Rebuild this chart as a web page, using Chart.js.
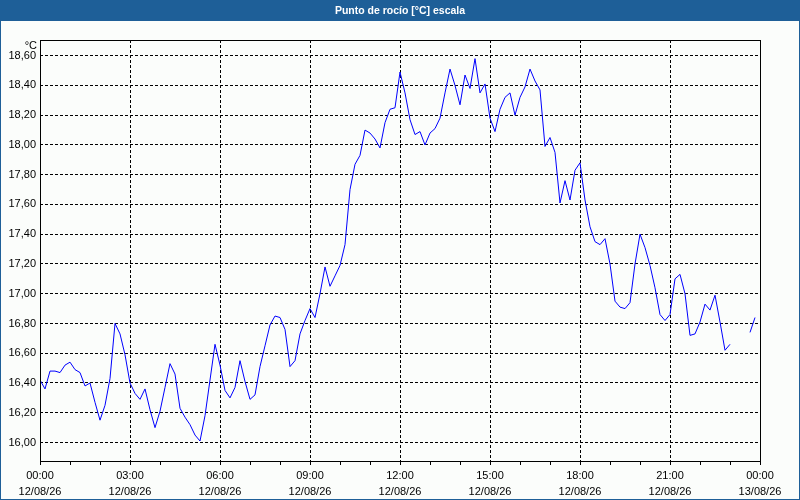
<!DOCTYPE html>
<html>
<head>
<meta charset="utf-8">
<script src="https://cdn.jsdelivr.net/npm/chart.js@4.4.1/dist/chart.umd.min.js"></script>
<style>
  html, body { margin: 0; padding: 0; background: #fbfdfb; }
  #wrap { width: 800px; height: 500px; position: relative; }
</style>
</head>
<body>
<div id="wrap"><canvas id="dew"></canvas></div>
<script>
// Dew point readings, one every 10 minutes starting 12/08/26 00:00 (null = no reading)
const stepMinutes = 10;
const dewPoint = [
  16.42, 16.36, 16.48, 16.48, 16.47, 16.52, 16.54, 16.49, 16.47, 16.38, 16.40, 16.27,
  16.15, 16.25, 16.43, 16.80, 16.73, 16.59, 16.40, 16.33, 16.29, 16.36, 16.22, 16.10,
  16.21, 16.37, 16.53, 16.46, 16.23, 16.17, 16.12, 16.05, 16.01, 16.18, 16.42, 16.66,
  16.52, 16.35, 16.30, 16.37, 16.55, 16.41, 16.29, 16.32, 16.51, 16.65, 16.79, 16.85,
  16.84, 16.76, 16.51, 16.55, 16.73, 16.82, 16.90, 16.84, 17.00, 17.18, 17.05, 17.12,
  17.19, 17.33, 17.70, 17.87, 17.93, 18.10, 18.08, 18.04, 17.98, 18.15, 18.24, 18.25,
  18.49, 18.35, 18.17, 18.07, 18.09, 18.00, 18.08, 18.11, 18.18, 18.35, 18.51, 18.40,
  18.27, 18.47, 18.38, 18.58, 18.35, 18.41, 18.18, 18.09, 18.24, 18.32, 18.35, 18.20,
  18.32, 18.39, 18.51, 18.43, 18.37, 17.99, 18.05, 17.95, 17.61, 17.76, 17.63, 17.83,
  17.88, 17.63, 17.45, 17.35, 17.33, 17.37, 17.20, 16.95, 16.91, 16.90, 16.94, 17.20,
  17.40, 17.31, 17.19, 17.04, 16.86, 16.82, 16.86, 17.10, 17.13, 17.00, 16.72, 16.73,
  16.81, 16.93, 16.89, 16.99, 16.81, 16.62, 16.66, null, null, null, 16.74, 16.84
];

// x axis ticks (minutes from start) and their two-line labels
const xTickMinutes = [0, 180, 360, 540, 720, 900, 1080, 1260, 1440];
const xTickTimes = ['00:00', '03:00', '06:00', '09:00', '12:00', '15:00', '18:00', '21:00', '00:00'];
const xTickDates = ['12/08/26', '12/08/26', '12/08/26', '12/08/26', '12/08/26', '12/08/26', '12/08/26', '12/08/26', '13/08/26'];
const xMinorMinutes = [60, 120, 240, 300, 420, 480, 600, 660, 780, 840, 960, 1020, 1140, 1200, 1320, 1380];

// y axis ticks
const yTicks = [16.0, 16.2, 16.4, 16.6, 16.8, 17.0, 17.2, 17.4, 17.6, 17.8, 18.0, 18.2, 18.4, 18.6];

const titleText = 'Punto de rocío [°C] escala';
const unitText = '°C';

const FONT = '"Liberation Sans", Arial, sans-serif';
const BLUE = '#1e5f98';

const points = dewPoint.map((v, i) => ({ x: i * stepMinutes, y: v }));

const framePlugin = {
  id: 'frame',
  beforeDraw(chart) {
    const ctx = chart.ctx;
    ctx.save();
    ctx.fillStyle = '#fbfdfb';
    ctx.fillRect(0, 0, chart.width, chart.height);
    ctx.restore();
  },
  afterDraw(chart) {
    const ctx = chart.ctx;
    const a = chart.chartArea;
    const xs = chart.scales.x;
    ctx.save();
    // title bar + window border
    ctx.fillStyle = BLUE;
    ctx.fillRect(0, 0, chart.width, 21);
    ctx.strokeStyle = BLUE;
    ctx.lineWidth = 1;
    ctx.strokeRect(0.5, 0.5, chart.width - 1, chart.height - 1);
    ctx.fillStyle = '#ffffff';
    ctx.font = 'bold 10.5px ' + FONT;
    ctx.textAlign = 'center';
    ctx.textBaseline = 'middle';
    ctx.fillText(titleText, chart.width / 2, 11);

    // plot box
    ctx.strokeStyle = '#000';
    ctx.strokeRect(Math.round(a.left) + 0.5, Math.round(a.top) + 0.5,
                   Math.round(a.right - a.left), Math.round(a.bottom - a.top));

    // hourly tick marks under the x axis
    ctx.beginPath();
    xTickMinutes.concat(xMinorMinutes).forEach(m => {
      const px = Math.round(xs.getPixelForValue(m)) + 0.5;
      ctx.moveTo(px, Math.round(a.bottom));
      ctx.lineTo(px, Math.round(a.bottom) + 4);
    });
    ctx.stroke();

    // unit label
    ctx.fillStyle = '#000';
    ctx.font = '11px ' + FONT;
    ctx.textAlign = 'right';
    ctx.fillText(unitText, a.left - 3, a.top + 6);
    ctx.restore();
  }
};

new Chart(document.getElementById('dew'), {
  type: 'line',
  data: {
    datasets: [{
      data: points,
      borderColor: '#0000ff',
      borderWidth: 1,
      pointRadius: 0,
      tension: 0,
      spanGaps: false
    }]
  },
  options: {
    responsive: true,
    maintainAspectRatio: false,
    animation: false,
    devicePixelRatio: 1,
    layout: { padding: { top: 40, right: 40, left: 0, bottom: 0 } },
    plugins: {
      legend: { display: false },
      tooltip: { enabled: false },
      title: { display: false }
    },
    scales: {
      x: {
        type: 'linear',
        min: 0,
        max: 1440,
        afterFit(s) { s.height = 39; },
        afterBuildTicks(s) { s.ticks = xTickMinutes.map(v => ({ value: v })); },
        ticks: {
          autoSkip: false,
          maxRotation: 0,
          padding: 7,
          color: '#000',
          font: { family: FONT, size: 11, lineHeight: 1.45 },
          callback(v) {
            const i = xTickMinutes.indexOf(v);
            return i < 0 ? '' : [xTickTimes[i], xTickDates[i]];
          }
        },
        grid: { color: '#000', lineWidth: 1, drawTicks: false },
        border: { display: false, dash: [3, 2] }
      },
      y: {
        min: 15.8756,
        max: 18.7055,
        afterFit(s) { s.width = 40; },
        afterBuildTicks(s) { s.ticks = yTicks.map(v => ({ value: v })); },
        ticks: {
          padding: 4,
          color: '#000',
          font: { family: FONT, size: 11 },
          callback(v) { return v.toFixed(2).replace('.', ','); }
        },
        grid: { color: '#000', lineWidth: 1, drawTicks: false },
        border: { display: false, dash: [3, 2] }
      }
    }
  },
  plugins: [framePlugin]
});
</script>
</body>
</html>
